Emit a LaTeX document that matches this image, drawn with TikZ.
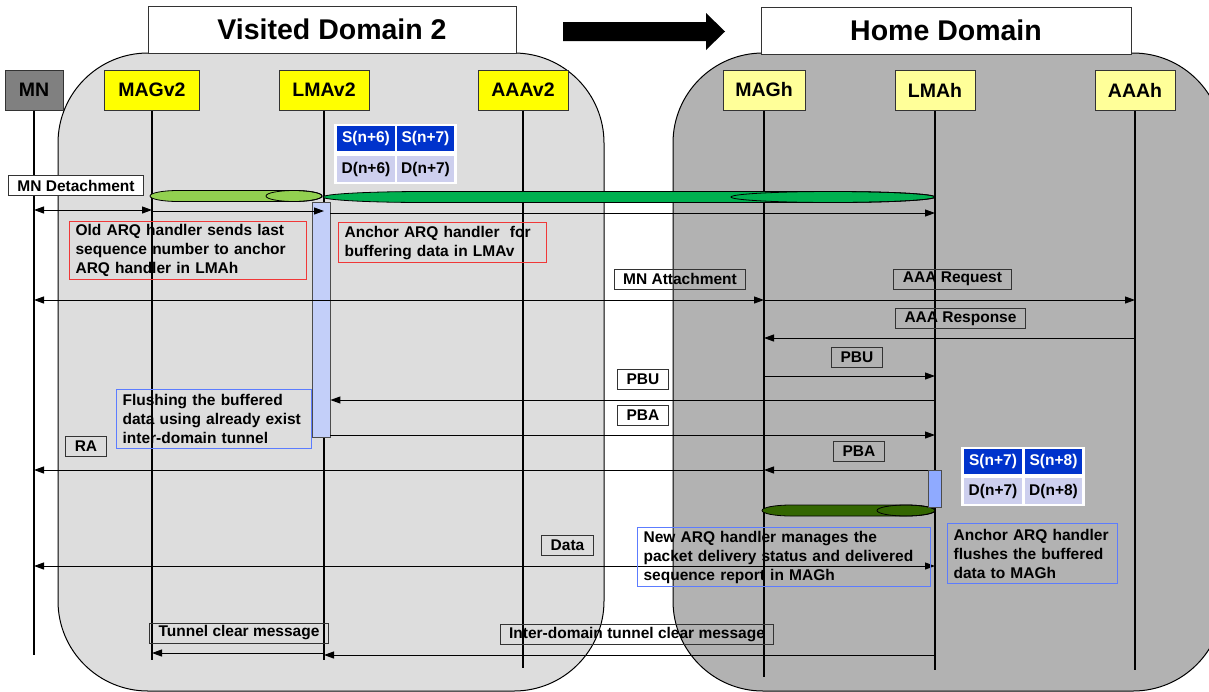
\documentclass[tikz,border=0pt]{standalone}
\usepackage{fontspec}
\setmainfont{Liberation Sans}
\usetikzlibrary{arrows.meta,calc}

\definecolor{visitedbg}{HTML}{DDDDDD}
\definecolor{homebg}{HTML}{B2B2B2}
\definecolor{mngray}{HTML}{808080}
\definecolor{yellowv}{HTML}{FFFF00}
\definecolor{yellowh}{HTML}{FFFF99}
\definecolor{tblblue}{HTML}{0033CC}
\definecolor{tbllav}{HTML}{CDCFEE}
\definecolor{actlight}{HTML}{C3CFF9}
\definecolor{actdark}{HTML}{8FAAFF}
\definecolor{pipelight}{HTML}{92D050}
\definecolor{pipemid}{HTML}{00B050}
\definecolor{pipedark}{HTML}{336600}
\definecolor{notered}{HTML}{F03838}
\definecolor{noteblue}{HTML}{5C7CFF}

% horizontal cylinder: x0, x1, y centre, half height, end radius, colour
% (the y axis points down, so angle -90 is the top of an arc)
\newcommand\drawpipe[6]{%
  \filldraw[fill=#6, draw=black, line width=0.8pt]
    ({#1+#5},{#3-#4}) -- ({#2-#5},{#3-#4})
    arc[start angle=-90, end angle=90, x radius=#5, y radius=#4]
    -- ({#1+#5},{#3+#4})
    arc[start angle=90, end angle=270, x radius=#5, y radius=#4] -- cycle;
  \draw[line width=0.8pt] ({#2-#5},#3) ellipse [x radius=#5, y radius=#4];
}

\tikzset{
  region/.style={draw=black, line width=1pt, rounded corners=90pt},
  titlebox/.style={draw=black!80, fill=white, line width=1pt, inner sep=0pt,
    font=\fontsize{28.5}{32}\selectfont\bfseries},
  actor/.style={draw=black!80, line width=1pt, minimum height=40, inner sep=0pt,
    font=\fontsize{19.5}{22}\selectfont\bfseries},
  life/.style={line width=2pt},
  lifethin/.style={line width=1.2pt},
  msg/.style={line width=1pt},
  actbox/.style={draw=black!70, line width=0.8pt, inner sep=0pt, anchor=north},
  lbl/.style={draw=black!80, line width=1pt, minimum height=20, inner xsep=9pt,
    inner ysep=0pt, font=\fontsize{15.5}{18}\selectfont\bfseries},
  note/.style={line width=1.2pt, inner xsep=6pt, inner ysep=0pt, align=left,
    anchor=north west, font=\fontsize{15.5}{19}\selectfont\bfseries},
  cellS/.style={fill=tblblue, text=white, minimum width=58, minimum height=25,
    inner sep=0pt, font=\fontsize{15.5}{18}\selectfont\bfseries},
  cellD/.style={fill=tbllav, text=black, minimum width=58, minimum height=26,
    inner sep=0pt, font=\fontsize{15.5}{18}\selectfont\bfseries},
  >={Triangle[length=10pt,width=7pt]}
}

\begin{document}
\begin{tikzpicture}[x=1pt,y=-1pt]
\useasboundingbox (0,0) rectangle (1209,691);

% domain areas
\draw[region, fill=visitedbg] (58,53) rectangle (604,691);
\draw[region, fill=homebg] (673,53) rectangle (1223,691);

% domain titles
\node[titlebox, minimum width=368, minimum height=47] (tvisit) at (332,29.5) {Visited Domain 2};
\node[titlebox, minimum width=370, minimum height=47] (thome) at (946,30.5) {Home Domain};
\fill[black] (563,22) -- (706,22) -- (706,13) -- (725,31.5) -- (706,50) -- (706,41) -- (563,41) -- cycle;

% entities
\node[actor, fill=mngray, minimum width=58] (mn) at (34,90) {MN};
\node[actor, fill=yellowv, minimum width=95] (magv) at (152,90) {MAGv2};
\node[actor, fill=yellowv, minimum width=90] (lmav) at (324,90) {LMAv2};
\node[actor, fill=yellowv, minimum width=90] (aaav) at (523,90) {AAAv2};
\node[actor, fill=yellowh, minimum width=82] (magh) at (764,90) {MAGh};
\node[actor, fill=yellowh, minimum width=80] (lmah) at (935,90) {LMAh};
\node[actor, fill=yellowh, minimum width=80] (aaah) at (1135,90) {AAAh};

% lifelines
\draw[life] (mn.south) -- (mn.south |- 0,655);
\draw[life] (magv.south) -- (magv.south |- 0,660);
\draw[life] (lmav.south) -- (lmav.south |- 0,660);
\draw[lifethin] (aaav.south) -- (aaav.south |- 0,668);
\draw[life] (magh.south) -- (magh.south |- 0,677);
\draw[lifethin] (lmah.south) -- (lmah.south |- 0,670);
\draw[life] (aaah.south) -- (aaah.south |- 0,670);

% ARQ handler tunnels
\drawpipe{150}{322}{196}{5.5}{28}{pipelight}
\drawpipe{323}{935}{197}{5.5}{102}{pipemid}
\drawpipe{762}{935}{510.5}{5.5}{29}{pipedark}

% activations
\node[actbox, fill=actlight, minimum width=18, minimum height=235] (actv) at ([xshift=-3pt]lmav |- 0,202) {};
\node[actbox, fill=actdark, minimum width=13, minimum height=37] (acth) at (lmah |- 0,470) {};

% messages
\draw[msg,<->] (mn |- 0,210) -- (magv |- 0,210);
\draw[msg,->] (magv |- 0,211) -- (lmav |- 0,211);
\draw[msg,->] (actv.east |- 0,213) -- (lmah |- 0,213);
\draw[msg,<->] (mn |- 0,300) -- (magh |- 0,300);
\draw[msg,->] (magh |- 0,300) -- (aaah |- 0,300);
\draw[msg,->] (aaah |- 0,338) -- (magh |- 0,338);
\draw[msg,->] (magh |- 0,376) -- (lmah |- 0,376);
\draw[msg,->] (lmah |- 0,400) -- (actv.east |- 0,400);
\draw[msg,->] (actv.east |- 0,435) -- (lmah |- 0,435);
\draw[msg,->] (acth.west |- 0,470) -- (magh |- 0,470);
\draw[msg,->] (magh |- 0,470) -- (mn |- 0,470);
\draw[msg,<->] (mn |- 0,566) -- (lmah |- 0,566);
\draw[msg,->] (lmav |- 0,653) -- (magv |- 0,653);
\draw[msg,->] (lmah |- 0,655) -- (lmav |- 0,655);

% message labels
\node[lbl, fill=white] (ldet) at (76,185.5) {MN Detachment};
\node[lbl] (latt) at (680,279) {MN Attachment};
\node[lbl] (lreq) at (952.5,279) {AAA Request};
\node[lbl] (lresp) at (960.5,318.5) {AAA Response};
\node[lbl] (lpbu1) at (857,357) {PBU};
\node[lbl] (lpbu2) at (643,379.5) {PBU};
\node[lbl] (lpba1) at (643,415) {PBA};
\node[lbl] (lpba2) at (859,451) {PBA};
\node[lbl] (lra) at (86,446.5) {RA};
\node[lbl] (ldata) at (567.5,545.5) {Data};
\node[lbl] (ltc) at (239,633) {Tunnel clear message};
\node[lbl] (lidtc) at (637,634.5) {Inter-domain tunnel clear message};

% explanatory notes
\node[note, draw=notered, text width=225, minimum height=58] (nold) at (69,221)
  {Old ARQ handler sends last\\sequence number to anchor\\ARQ handler in LMAh};
\node[note, draw=notered, text width=196, minimum height=40] (nanc) at (338,222)
  {Anchor ARQ handler \ for\\buffering data in LMAv};
\node[note, draw=noteblue, text width=183, minimum height=59] (nflush) at (116,389)
  {Flushing the buffered\\data using already exist\\inter-domain tunnel};
\node[note, draw=noteblue, text width=281, minimum height=59] (nnew) at (637,527)
  {New ARQ handler manages the\\packet delivery status and delivered\\sequence report in MAGh};
\node[note, draw=noteblue, text width=158, minimum height=60] (nflh) at (947,523)
  {Anchor ARQ handler\\flushes the buffered\\data to MAGh};

% sequence tables
\fill[white] (334,124) rectangle (457,184);
\node[cellS] (s6) at (366,138.5) {S(n+6)};
\node[cellS, minimum width=57] (s7) at (425.5,138.5) {S(n+7)};
\node[cellD] (d6) at (366,169) {D(n+6)};
\node[cellD, minimum width=57] (d7) at (425.5,169) {D(n+7)};

\fill[white] (961,447) rectangle (1085,506);
\node[cellS] (s7h) at (993,461.5) {S(n+7)};
\node[cellS, minimum width=57] (s8h) at (1053.5,461.5) {S(n+8)};
\node[cellD] (d7h) at (993,491) {D(n+7)};
\node[cellD, minimum width=57] (d8h) at (1053.5,491) {D(n+8)};
\end{tikzpicture}
\end{document}
